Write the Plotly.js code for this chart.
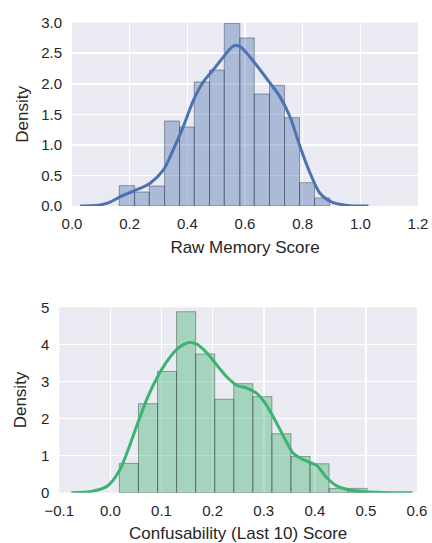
<!DOCTYPE html>
<html>
<head>
<meta charset="utf-8">
<script src="https://cdn.plot.ly/plotly-3.0.1.min.js"></script>
<style>
html,body{margin:0;padding:0;background:#fff;}
#chart{width:432px;height:543px;}
</style>
</head>
<body>
<div id="chart"></div>
<script>
// ---- Raw Memory Score histogram (density) ----
var memEdges = [0.164,0.217,0.268,0.321,0.373,0.424,0.477,0.528,0.582,0.632,0.685,0.737,0.789,0.841,0.894];
var memDensity = [0.333,0.229,0.327,1.391,1.293,2.03,2.226,2.99,2.75,1.833,1.975,1.446,0.382,0.131];
// KDE curve points
var memKdeX = [0.028,0.06,0.097,0.13,0.166,0.213,0.27,0.317,0.351,0.386,0.421,0.455,0.49,0.525,0.56,0.583,0.617,0.652,0.687,0.721,0.756,0.791,0.826,0.86,0.906,0.964,1.0,1.028];
var memKdeY = [0.0,0.004,0.016,0.06,0.15,0.245,0.37,0.59,0.92,1.30,1.73,2.03,2.23,2.44,2.62,2.61,2.44,2.23,2.01,1.79,1.46,0.97,0.535,0.21,0.055,0.006,0.001,0.0];

// ---- Confusability (Last 10) Score histogram (density) ----
var confEdges = [0.0176,0.0549,0.0922,0.1295,0.1668,0.2041,0.2414,0.2787,0.3160,0.3533,0.3906,0.4279,0.4652,0.5025];
var confDensity = [0.79,2.40,3.27,4.88,3.74,2.52,2.94,2.59,1.59,0.98,0.78,0.117,0.117];
var confKdeX = [-0.0765,-0.0375,-0.005,0.0175,0.034,0.053,0.073,0.092,0.112,0.131,0.154,0.17,0.19,0.209,0.228,0.248,0.267,0.287,0.306,0.326,0.345,0.358,0.372,0.39,0.404,0.423,0.442,0.468,0.5,0.533,0.591];
var confKdeY = [0.0,0.036,0.19,0.59,1.135,1.86,2.58,3.12,3.57,3.88,4.05,4.0,3.75,3.43,3.12,2.89,2.82,2.67,2.35,1.86,1.36,1.06,0.93,0.82,0.73,0.41,0.19,0.072,0.027,0.009,0.0];

var memAxisTitle = "Raw Memory Score";
var confAxisTitle = "Confusability (Last 10) Score";
var yAxisTitle = "Density";

function lefts(edges){ return edges.slice(0, edges.length-1); }
function widths(edges){ var w=[]; for(var i=0;i<edges.length-1;i++){ w.push(edges[i+1]-edges[i]); } return w; }

var blue = "#4C72B0";
var green = "#3CB371";
var fontFam = "Liberation Sans, Arial, sans-serif";
var textCol = "#262626";

var traces = [
  {type:"bar", x:lefts(memEdges), y:memDensity, width:widths(memEdges), offset:0,
   xaxis:"x", yaxis:"y",
   marker:{color:"rgba(76,114,176,0.4)", line:{color:"rgba(50,55,70,0.45)", width:1}},
   hoverinfo:"skip"},
  {type:"scatter", mode:"lines", x:memKdeX, y:memKdeY, xaxis:"x", yaxis:"y",
   line:{color:blue, width:3, shape:"spline", smoothing:0.8}, hoverinfo:"skip"},
  {type:"bar", x:lefts(confEdges), y:confDensity, width:widths(confEdges), offset:0,
   xaxis:"x2", yaxis:"y2",
   marker:{color:"rgba(60,179,113,0.4)", line:{color:"rgba(50,60,55,0.45)", width:1}},
   hoverinfo:"skip"},
  {type:"scatter", mode:"lines", x:confKdeX, y:confKdeY, xaxis:"x2", yaxis:"y2",
   line:{color:green, width:3, shape:"spline", smoothing:0.8}, hoverinfo:"skip"}
];

function axisBase(){
  return {
    showgrid:true, gridcolor:"#ffffff", gridwidth:1.6, zeroline:false,
    showline:false, ticks:"", ticklen:0,
    tickfont:{family:fontFam, size:15, color:textCol},
    automargin:false, fixedrange:true
  };
}

var xa = Object.assign(axisBase(), {domain:[0.1667,0.9676], range:[0,1.2], dtick:0.2, tick0:0, tickformat:".1f", anchor:"y",
  ticklabelstandoff:7,
  title:{text:memAxisTitle, font:{family:fontFam, size:17, color:textCol}, standoff:10}});
var ya = Object.assign(axisBase(), {domain:[0.6206,0.9582], range:[0,3.0], dtick:0.5, tick0:0, tickformat:".1f", anchor:"x",
  ticklabelstandoff:9,
  title:{text:yAxisTitle, font:{family:fontFam, size:17, color:textCol}, standoff:8}});
var xa2 = Object.assign(axisBase(), {domain:[0.1373,0.9653], range:[-0.1,0.6], dtick:0.1, tick0:0, tickformat:".1f", anchor:"y2",
  ticklabelstandoff:7,
  title:{text:confAxisTitle, font:{family:fontFam, size:17, color:textCol}, standoff:12}});
var ya2 = Object.assign(axisBase(), {domain:[0.0926,0.4341], range:[0,5], dtick:1, tick0:0, anchor:"x2",
  ticklabelstandoff:9,
  title:{text:yAxisTitle, font:{family:fontFam, size:17, color:textCol}, standoff:10}});

var layout = {
  width:432, height:543,
  margin:{l:0, r:0, t:0, b:0},
  paper_bgcolor:"#ffffff", plot_bgcolor:"#EAEAF2",
  showlegend:false, bargap:0,
  font:{family:fontFam, color:textCol},
  xaxis:xa, yaxis:ya, xaxis2:xa2, yaxis2:ya2
};

Plotly.newPlot("chart", traces, layout, {staticPlot:true, displayModeBar:false});
</script>
</body>
</html>
